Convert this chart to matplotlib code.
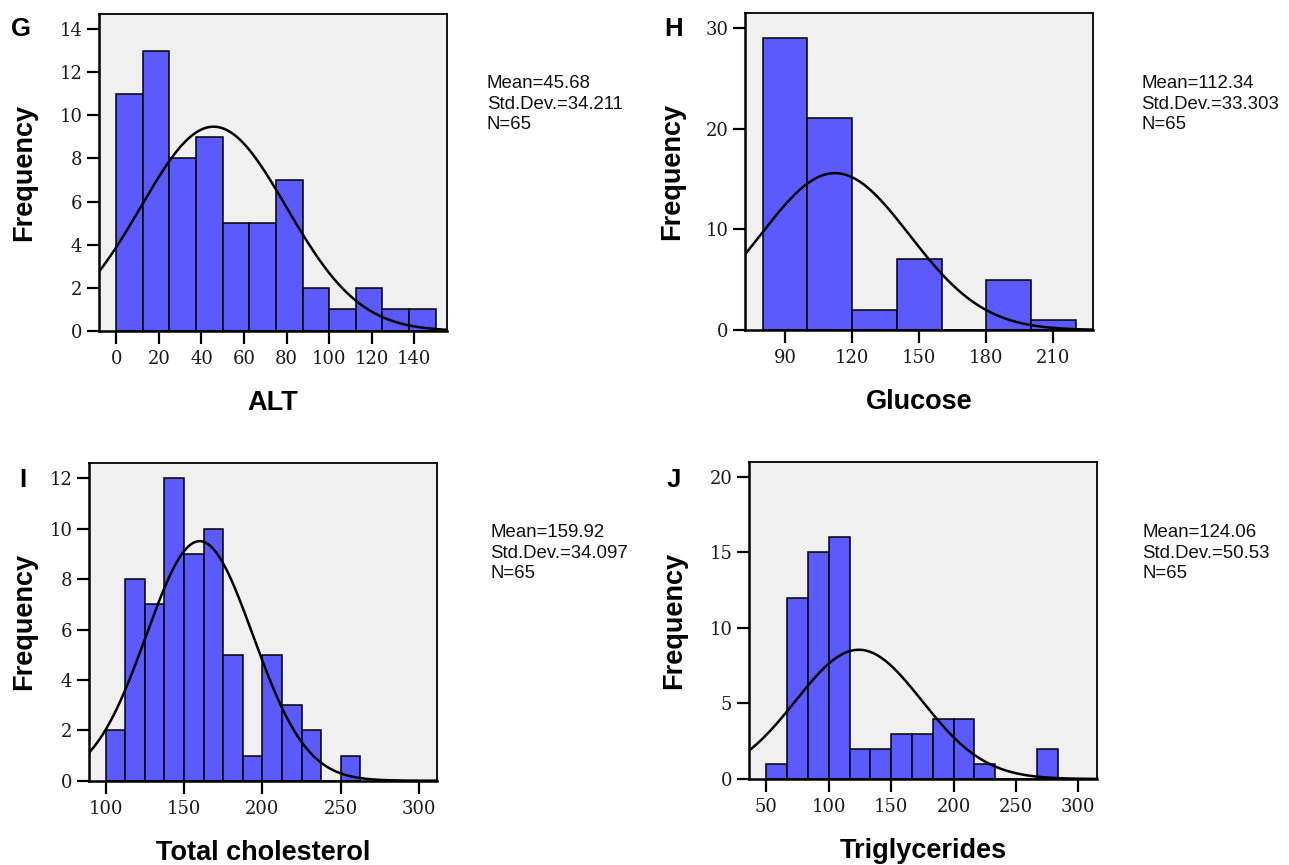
import numpy as np
import matplotlib
matplotlib.use("Agg")
from matplotlib import pyplot as plt

# Histogram data: first bin edge, bin width and counts per bin
alt_start, alt_width = 0, 12.5
alt_counts = [11, 13, 8, 9, 5, 5, 7, 2, 1, 2, 1, 1]
alt_stats = (45.68, 34.211, 65)

glu_start, glu_width = 80, 20
glu_counts = [29, 21, 2, 7, 0, 5, 1]
glu_stats = (112.34, 33.303, 65)

chol_start, chol_width = 100, 12.5
chol_counts = [2, 8, 7, 12, 9, 10, 5, 1, 5, 3, 2, 0, 1]
chol_stats = (159.92, 34.097, 65)

trig_start, trig_width = 50, 50 / 3
trig_counts = [1, 12, 15, 16, 2, 2, 3, 3, 4, 4, 1, 0, 0, 2]
trig_stats = (124.06, 50.53, 65)

W, H = 1289, 865
SANS = "Liberation Sans"
SERIF = "DejaVu Serif"
BAR = "#5a5aff"
BG = "#f0f0f0"

fig = plt.figure(figsize=(W / 100, H / 100), dpi=100)


def fx(px):
    return px / W


def fy(py):
    return 1 - py / H


def format_num(v):
    return ("%.3f" % v).rstrip("0").rstrip(".")


def panel(letter, xlabel, start, width, counts, stats, box, xlim, ylim,
          xticks, yticks, letter_xy, ylabel_x, stats_xy):
    left, top, right, bottom = box
    ax = fig.add_axes([fx(left), fy(bottom), fx(right - left), (bottom - top) / H])
    ax.set_facecolor(BG)

    edges = start + width * np.arange(len(counts))
    ax.bar(edges, counts, width=width, align="edge", color=BAR,
           edgecolor="black", linewidth=1.1, zorder=2)

    # fitted normal curve scaled to counts
    mean, sd, n = stats
    xs = np.linspace(xlim[0], xlim[1], 400)
    ys = n * width / (sd * np.sqrt(2 * np.pi)) * np.exp(-0.5 * ((xs - mean) / sd) ** 2)
    ax.plot(xs, ys, color="black", linewidth=1.8, zorder=3)

    ax.set_xlim(*xlim)
    ax.set_ylim(*ylim)
    ax.set_xticks(xticks)
    ax.set_yticks(yticks)
    ax.tick_params(direction="out", length=9, width=1.6, color="black",
                   labelsize=13, pad=3)
    ax.tick_params(axis="x", pad=5)
    for lab in ax.get_xticklabels() + ax.get_yticklabels():
        lab.set_fontfamily(SERIF)
        lab.set_color("#1a1a1a")
    for side in ["left", "bottom"]:
        ax.spines[side].set_linewidth(1.8)
    for side in ["top", "right"]:
        ax.spines[side].set_linewidth(1.3)

    # panel letter, axis titles
    fig.text(fx(letter_xy[0]), fy(letter_xy[1]), letter, fontsize=18.5,
             fontweight="bold", family=SANS, va="baseline", ha="left")
    fig.text(fx(ylabel_x), fy((top + bottom) / 2), "Frequency", rotation=90,
             fontsize=19.5, fontweight="bold", family=SANS,
             ha="center", va="center")
    fig.text(fx((left + right) / 2), fy(bottom + 79), xlabel, fontsize=19.5,
             fontweight="bold", family=SANS, ha="center", va="baseline")

    sx, sy = stats_xy
    lines = ["Mean=%s" % format_num(mean), "Std.Dev.=%s" % format_num(sd), "N=%d" % n]
    for i, line in enumerate(lines):
        fig.text(fx(sx), fy(sy + 20.7 * i), line, fontsize=13.4, family=SANS,
                 color="#111111", ha="left", va="baseline")
    return ax


panel("G", "ALT", alt_start, alt_width, alt_counts, alt_stats,
      (99, 14, 447, 331), (-8.1, 155.3), (0, 14.7),
      np.arange(0, 141, 20), np.arange(0, 15, 2), (11, 36), 24, (487, 88))
panel("H", "Glucose", glu_start, glu_width, glu_counts, glu_stats,
      (745, 12.7, 1093.3, 330), (72.1, 227.9), (0, 31.5),
      np.arange(90, 211, 30), np.arange(0, 31, 10), (664, 36), 672, (1141.5, 88))
panel("I", "Total cholesterol", chol_start, chol_width, chol_counts, chol_stats,
      (89, 462.7, 436.7, 780.7), (89.3, 311.3), (0, 12.62),
      np.arange(100, 301, 50), np.arange(0, 13, 2), (19, 487), 24, (490, 537))
panel("J", "Triglycerides", trig_start, trig_width, trig_counts, trig_stats,
      (749, 461.7, 1096.7, 779), (36.1, 314.7), (0, 21),
      np.arange(50, 301, 50), np.arange(0, 21, 5), (667, 487), 674, (1142.5, 537))

fig.savefig("out.png", dpi=100)
